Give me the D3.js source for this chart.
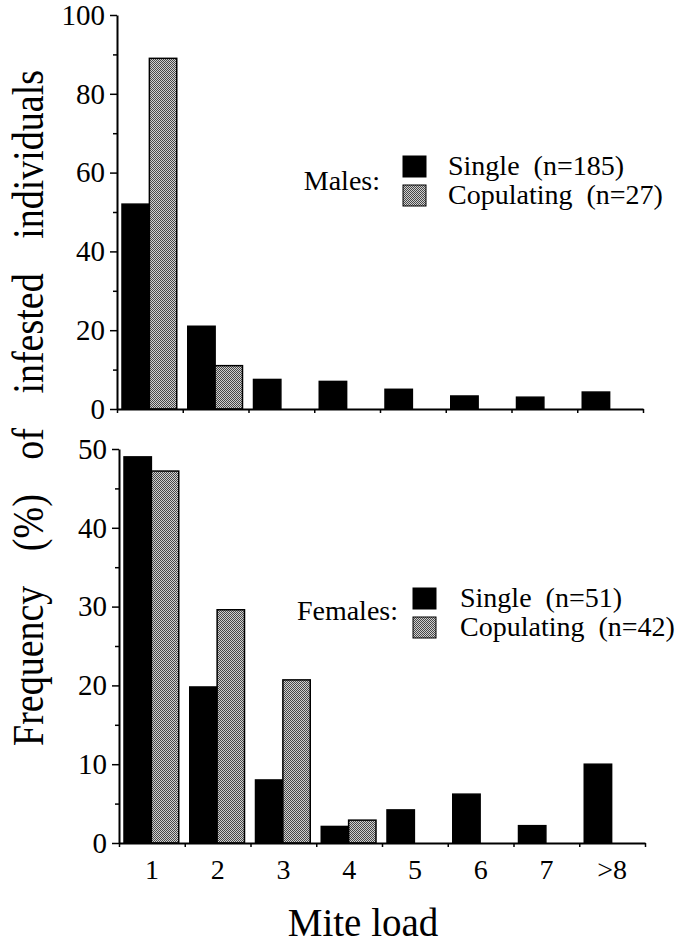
<!DOCTYPE html>
<html>
<head>
<meta charset="utf-8">
<script src="https://cdn.jsdelivr.net/npm/d3@7"></script>
<style>
body { margin: 0; background: #fff; }
text { font-family: "Liberation Serif", "Times New Roman", serif; fill: #000; }
</style>
</head>
<body>
<div id="chart"></div>
<script>
// mite load classes and the two groups
var categories = ["1", "2", "3", "4", "5", "6", "7", ">8"];
var seriesNames = ["Single", "Copulating"];

// frequency (%)
var maleSingle = [52, 21, 7.5, 7, 5, 3.3, 3, 4.3];
var maleCopulating = [89, 11, 0, 0, 0, 0, 0, 0];
var femaleSingle = [49, 19.8, 8, 2.1, 4.2, 6.2, 2.2, 10];
var femaleCopulating = [47.2, 29.6, 20.7, 2.9, 0, 0, 0, 0];

var maleTicks = [0, 20, 40, 60, 80, 100];
var maleMinor = [10, 30, 50, 70, 90];
var femaleTicks = [0, 10, 20, 30, 40, 50];
var femaleMinor = [5, 15, 25, 35, 45];

var maleLegend = ["Single  (n=185)", "Copulating  (n=27)"];
var femaleLegend = ["Single  (n=51)", "Copulating  (n=42)"];

var width = 681, height = 944;
var serif = "'Liberation Serif', 'Times New Roman', serif";

var svg = d3.select("#chart")
	.append("svg")
	.attr("width", width)
	.attr("height", height);

// dithered grey like the old print
var pat = svg.append("defs").append("pattern")
	.attr("id", "dither")
	.attr("width", 2)
	.attr("height", 2)
	.attr("patternUnits", "userSpaceOnUse");
pat.append("rect").attr("width", 2).attr("height", 2).attr("fill", "#d0d0d0");
pat.append("rect").attr("width", 1).attr("height", 1).attr("fill", "#484848");
pat.append("rect").attr("x", 1).attr("y", 1).attr("width", 1).attr("height", 1).attr("fill", "#484848");

function drawPanel(p) {
	var g = svg.append("g");

	var x = d3.scaleBand()
		.domain(categories)
		.range([p.left, p.right]);
	var x1 = d3.scaleBand()
		.domain(seriesNames)
		.range([5, x.bandwidth() - 6]);
	var xl = d3.scaleLinear()
		.domain([0, categories.length])
		.range([p.left, p.right]);
	var y = d3.scaleLinear()
		.domain([0, p.ymax])
		.range([p.bottom, p.top]);

	var rows = categories.map(function(c, i) {
		return [
			{cat: c, s: "Single", v: p.single[i]},
			{cat: c, s: "Copulating", v: p.copulating[i]}
		];
	});
	var bars = [].concat.apply([], rows).filter(function(d) { return d.v > 0; });

	g.selectAll("rect.bar")
		.data(bars)
		.enter()
		.append("rect")
		.attr("class", "bar")
		.attr("x", function(d) { return x(d.cat) + x1(d.s); })
		.attr("width", x1.bandwidth())
		.attr("y", function(d) { return y(d.v); })
		.attr("height", function(d) { return y(0) - y(d.v); })
		.attr("fill", function(d) { return d.s == "Single" ? "#000" : "url(#dither)"; })
		.attr("stroke", "#000")
		.attr("stroke-width", 1.5);

	// y axis: major + minor ticks
	var ya = g.append("g")
		.attr("transform", "translate(" + p.left + ",0)")
		.call(d3.axisLeft(y).tickValues(p.ticks).tickSize(7).tickSizeOuter(0).tickPadding(5));
	g.append("g")
		.attr("transform", "translate(" + p.left + ",0)")
		.call(d3.axisLeft(y).tickValues(p.minor).tickSize(4).tickFormat(""))
		.select(".domain").remove();

	// x axis: ticks on the class boundaries
	g.append("g")
		.attr("transform", "translate(0," + p.bottom + ")")
		.call(d3.axisBottom(xl).tickValues(d3.range(0, categories.length + 1)).tickSize(4).tickSizeOuter(0).tickFormat(""));

	if (p.labels) {
		g.append("g")
			.attr("transform", "translate(0," + p.bottom + ")")
			.call(d3.axisBottom(x).tickSize(0).tickPadding(16))
			.call(function(a) { a.select(".domain").remove(); })
			.selectAll("text")
			.attr("font-size", 28)
			.attr("font-family", serif);
	}

	g.selectAll(".domain").attr("stroke-width", 2);
	g.selectAll(".tick line").attr("stroke-width", 1.5);
	ya.selectAll("text")
		.attr("font-size", 29)
		.attr("font-family", serif);

	// legend
	var lg = g.append("g");
	lg.append("text")
		.attr("x", p.leg.labelX)
		.attr("y", p.leg.labelY)
		.attr("text-anchor", "end")
		.attr("font-size", 28)
		.text(p.leg.title);
	seriesNames.forEach(function(s, i) {
		lg.append("rect")
			.attr("x", p.leg.boxX)
			.attr("y", p.leg.boxY + i * p.leg.step)
			.attr("width", 23)
			.attr("height", 21)
			.attr("fill", i == 0 ? "#000" : "url(#dither)")
			.attr("stroke", "#000")
			.attr("stroke-width", 1);
		lg.append("text")
			.attr("x", p.leg.textX)
			.attr("y", p.leg.boxY + 19 + i * p.leg.step)
			.attr("font-size", 28)
			.style("white-space", "pre")
			.text(p.legendText[i]);
	});
}

drawPanel({
	left: 117, right: 643, top: 15, bottom: 409, ymax: 100,
	ticks: maleTicks, minor: maleMinor,
	single: maleSingle, copulating: maleCopulating,
	labels: false,
	legendText: maleLegend,
	leg: {title: "Males:", labelX: 380, labelY: 190, boxX: 403, boxY: 156, textX: 448, step: 29}
});

drawPanel({
	left: 119, right: 645, top: 449, bottom: 843, ymax: 50,
	ticks: femaleTicks, minor: femaleMinor,
	single: femaleSingle, copulating: femaleCopulating,
	labels: true,
	legendText: femaleLegend,
	leg: {title: "Females:", labelX: 398, labelY: 620, boxX: 413, boxY: 588, textX: 460, step: 29}
});

// shared axis titles
svg.append("text")
	.attr("transform", "translate(43,408) rotate(-90) scale(1,1.15)")
	.attr("text-anchor", "middle")
	.attr("font-size", 38)
	.attr("word-spacing", 25)
	.text("Frequency (%) of infested individuals");

svg.append("text")
	.attr("x", 363)
	.attr("y", 936)
	.attr("text-anchor", "middle")
	.attr("font-size", 39)
	.text("Mite load");
</script>
</body>
</html>
